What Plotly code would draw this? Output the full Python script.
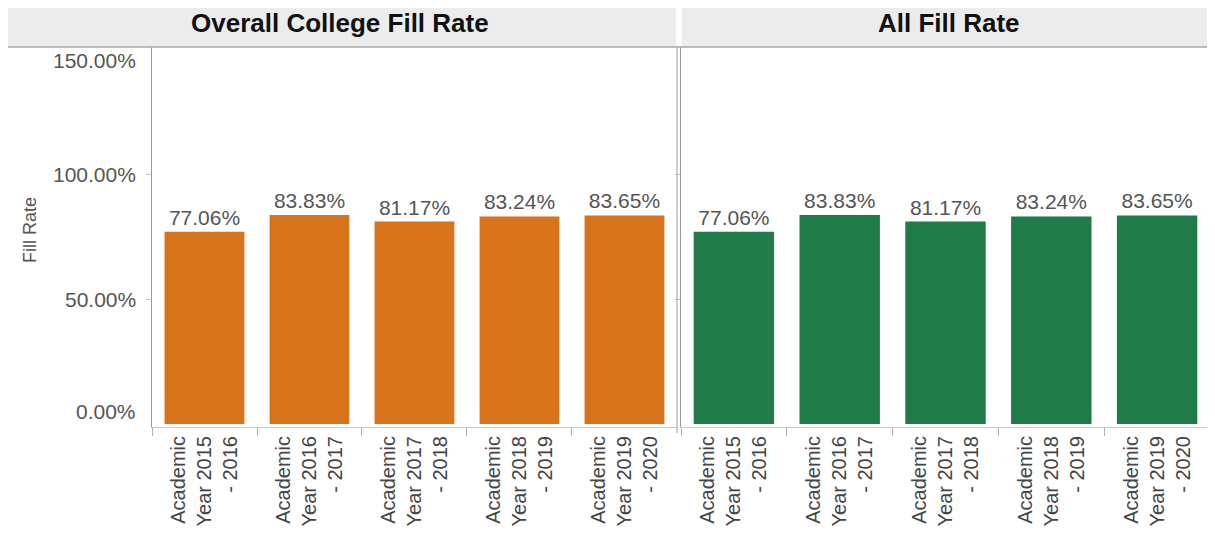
import plotly.graph_objects as go

categories = ["Academic<br>Year 2015<br>- 2016", "Academic<br>Year 2016<br>- 2017",
              "Academic<br>Year 2017<br>- 2018", "Academic<br>Year 2018<br>- 2019",
              "Academic<br>Year 2019<br>- 2020"]
college_fill = [77.06, 83.83, 81.17, 83.24, 83.65]
all_fill = [77.06, 83.83, 81.17, 83.24, 83.65]
panel_titles = ["Overall College Fill Rate", "All Fill Rate"]
y_ticks = [0, 50, 100, 150]
y_tick_text = ["0.00%", "50.00%", "100.00%", "150.00%"]

ORANGE = "#d7731b"
GREEN = "#1f7b48"
FONT = "Liberation Sans, Arial, sans-serif"

fig = go.Figure()
fig.add_trace(go.Bar(x=categories, y=college_fill, marker_color=ORANGE, marker_line_width=0,
                     text=[f"{v:.2f}%" for v in college_fill], textposition="outside",
                     textfont=dict(size=21, color="#555555", family=FONT),
                     cliponaxis=False, xaxis="x", yaxis="y", showlegend=False, hoverinfo="skip"))
fig.add_trace(go.Bar(x=categories, y=all_fill, marker_color=GREEN, marker_line_width=0,
                     text=[f"{v:.2f}%" for v in all_fill], textposition="outside",
                     textfont=dict(size=21, color="#555555", family=FONT),
                     cliponaxis=False, xaxis="x2", yaxis="y2", showlegend=False, hoverinfo="skip"))

xcommon = dict(type="category", tickangle=-90, tickson="boundaries", ticks="outside",
               ticklen=8, tickcolor="#b0b0b0", showline=True, linecolor="#c8c8c8",
               linewidth=1, showgrid=False, tickfont=dict(size=20, color="#444444", family=FONT),
               fixedrange=True)
ycommon = dict(range=[-1.2, 151.2], tickvals=[50, 100], showticklabels=False, ticks="outside",
               ticklen=5, tickcolor="#c0c0c0", showgrid=False, zeroline=False,
               showline=True, linecolor="#9a9a9a", linewidth=1, fixedrange=True)

PW = 1058.0  # plot-area width in px
fig.update_layout(
    width=1207, height=528,
    margin=dict(l=144, r=5, t=39, b=109),
    paper_bgcolor="white", plot_bgcolor="white",
    bargap=0.24,
    font=dict(family=FONT),
    xaxis=dict(domain=[0, 0.4962], anchor="y", **xcommon),
    xaxis2=dict(domain=[0.5, 1], anchor="y2", **xcommon),
    yaxis=dict(anchor="x", **ycommon),
    yaxis2=dict(anchor="x2", matches="y", **ycommon),
)

# y tick labels (Tableau-style: end labels nudged inside)
shifts = {0: 13, 50: 0, 100: 0, 150: -11}
for v, t in zip(y_ticks, y_tick_text):
    fig.add_annotation(text=t, x=0, xref="x domain", y=v, yref="y", xanchor="right",
                       yanchor="middle", xshift=-14, yshift=shifts[v], showarrow=False,
                       font=dict(size=21, color="#555555", family=FONT))

# y axis title
fig.add_annotation(text="Fill Rate", x=0, xref="x domain", xshift=-122, y=0.5, yref="y domain",
                   yshift=7, textangle=-90, showarrow=False, xanchor="center", yanchor="middle",
                   font=dict(size=18, color="#555555", family=FONT))

# header bands
x_left = -144 / PW
hdr_top = 1 + 39 / 381
hdr_mid = 1 + 24 / 381
fig.add_shape(type="rect", xref="paper", yref="paper", x0=x_left, x1=0.4952, y0=1.0, y1=hdr_top,
              fillcolor="#ececec", line_width=0, layer="below")
fig.add_shape(type="rect", xref="paper", yref="paper", x0=0.5010, x1=1 + 5 / PW, y0=1.0, y1=hdr_top,
              fillcolor="#ececec", line_width=0, layer="below")
fig.add_annotation(text=f"<b>{panel_titles[0]}</b>", xref="paper", yref="paper",
                   x=(x_left + 0.4952) / 2 - 2 / PW, y=hdr_mid, showarrow=False,
                   xanchor="center", yanchor="middle",
                   font=dict(size=26, color="#111111", family=FONT))
fig.add_annotation(text=f"<b>{panel_titles[1]}</b>", xref="paper", yref="paper",
                   x=(0.5010 + 1 + 5 / PW) / 2, y=hdr_mid, showarrow=False,
                   xanchor="center", yanchor="middle",
                   font=dict(size=26, color="#111111", family=FONT))
# header bottom border
fig.add_shape(type="line", xref="paper", yref="paper", x0=x_left, x1=1 + 5 / PW, y0=1.0, y1=1.0,
              line=dict(color="#a8a8a8", width=1.5))
# left panel right border & right panel right border
fig.add_shape(type="line", xref="paper", yref="paper", x0=0.4962, x1=0.4962, y0=-0.016, y1=1.0,
              line=dict(color="#a0a0a0", width=1))
fig.add_shape(type="line", xref="paper", yref="paper", x0=1.0, x1=1.0, y0=0, y1=1.0,
              line=dict(color="#e4e4e4", width=1))

fig.write_html("out.html")
